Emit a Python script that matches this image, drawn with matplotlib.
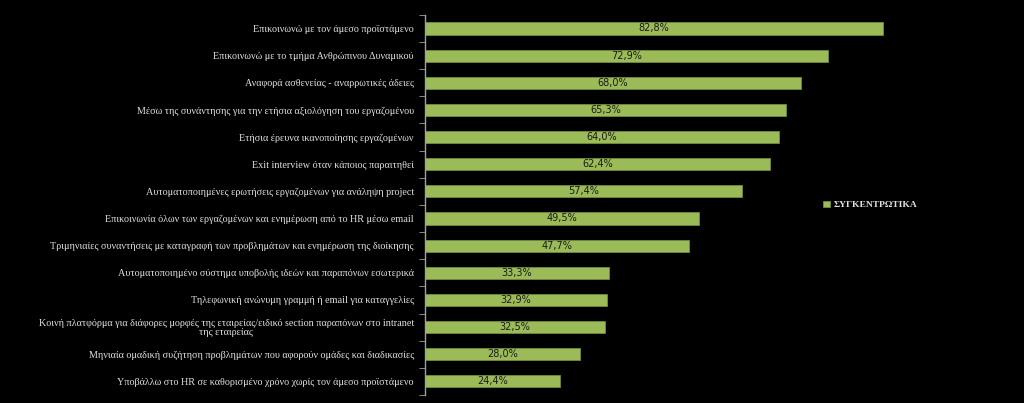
import numpy as np
import matplotlib.pyplot as plt

categories = [
    "Επικοινωνώ με τον άμεσο προϊστάμενο",
    "Επικοινωνώ με το τμήμα Ανθρώπινου Δυναμικού",
    "Αναφορά ασθενείας - αναρρωτικές άδειες",
    "Μέσω της συνάντησης για την ετήσια αξιολόγηση του εργαζομένου",
    "Ετήσια έρευνα ικανοποίησης εργαζομένων",
    "Exit interview όταν κάποιος παραιτηθεί",
    "Αυτοματοποιημένες ερωτήσεις εργαζομένων για ανάληψη project",
    "Επικοινωνία όλων των εργαζομένων και ενημέρωση από το HR μέσω email",
    "Τριμηνιαίες συναντήσεις με καταγραφή των προβλημάτων και ενημέρωση της διοίκησης",
    "Αυτοματοποιημένο σύστημα υποβολής ιδεών και παραπόνων εσωτερικά",
    "Τηλεφωνική ανώνυμη γραμμή ή email για καταγγελίες",
    "Κοινή πλατφόρμα για διάφορες μορφές της εταιρείας/ειδικό section παραπόνων στο intranet\nτης εταιρείας",
    "Μηνιαία ομαδική συζήτηση προβλημάτων που αφορούν ομάδες και διαδικασίες",
    "Υποβάλλω στο HR σε καθορισμένο χρόνο χωρίς τον άμεσο προϊστάμενο",
]
values = [82.8, 72.9, 68.0, 65.3, 64.0, 62.4, 57.4, 49.5, 47.7, 33.3, 32.9, 32.5, 28.0, 24.4]
series_name = "ΣΥΓΚΕΝΤΡΩΤΙΚΑ"

bar_color = "#9BBB59"

fig = plt.figure(figsize=(10.24, 4.03), dpi=100, facecolor="black")
ax = fig.add_axes([0.415, 0.02, 0.54, 0.943], facecolor="black")

y = np.arange(len(categories))
ax.barh(y, values, height=0.45, color=bar_color, edgecolor="#7a9444",
        linewidth=0.5, label=series_name)
ax.set_xlim(0, 100)
ax.set_ylim(len(categories) - 0.5, -0.5)

# value labels centred in each bar
for yi, v in zip(y, values):
    ax.text(v / 2, yi, f"{v:.1f}%".replace(".", ","), ha="center", va="center",
            fontsize=7, color="#1a1a1a")

ax.set_yticks(y)
ax.set_yticklabels(categories, fontsize=7.3, color="#e0e0e0",
                   family="Liberation Serif", ha="right", multialignment="center",
                   linespacing=1.0)
ax.set_yticks(np.arange(len(categories) + 1) - 0.5, minor=True)
ax.tick_params(axis="y", which="major", length=0, pad=8)
ax.tick_params(axis="y", which="minor", length=4, color="#a0a0a0", direction="out")
ax.set_xticks([])
for s in ["top", "right", "bottom"]:
    ax.spines[s].set_visible(False)
ax.spines["left"].set_color("#a0a0a0")
ax.spines["left"].set_linewidth(1)

leg = ax.legend(loc="center left", bbox_to_anchor=(0.705, 0.5), frameon=False,
                handlelength=0.7, handleheight=0.7, handletextpad=0.4,
                prop={"family": "Liberation Serif", "size": 6.8, "weight": "bold"})
for t in leg.get_texts():
    t.set_color("#e0e0e0")

fig.savefig("out.png", dpi=100, facecolor="black")
